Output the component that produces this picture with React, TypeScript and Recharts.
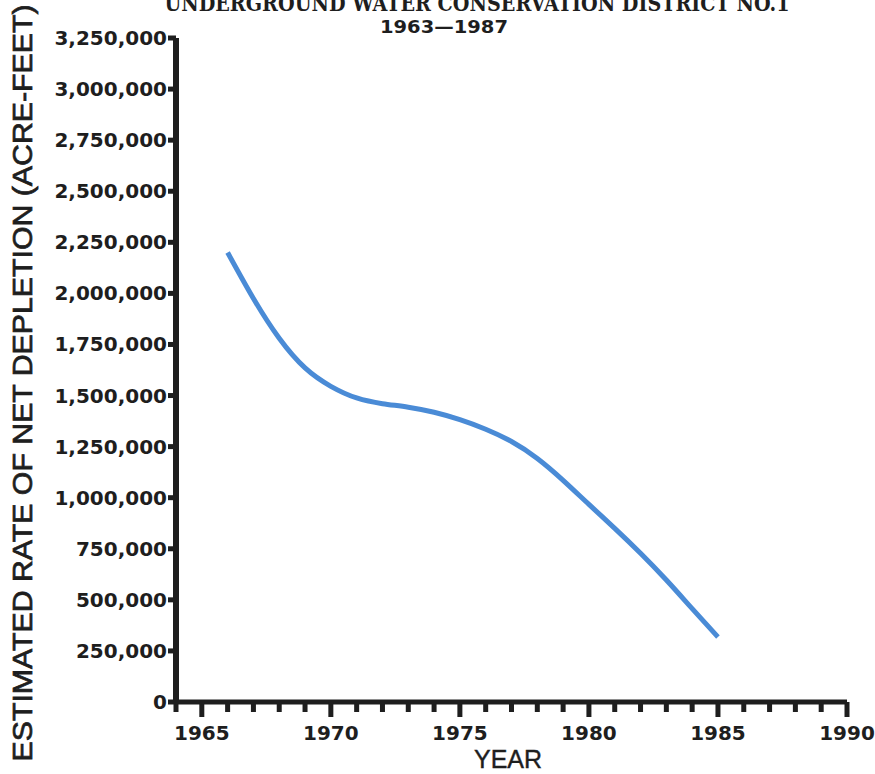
import { Line, LineChart, XAxis, YAxis } from "recharts"

const years = [
  1966, 1967, 1968, 1969, 1970, 1971, 1972, 1973, 1974, 1975, 1976, 1977, 1978, 1979, 1980, 1981,
  1982, 1983, 1984, 1985,
]
const depletion = [
  2200000, 1975000, 1780000, 1635000, 1545000, 1488000, 1460000, 1443000, 1418000, 1382000,
  1335000, 1275000, 1192000, 1085000, 967000, 850000, 728000, 597000, 457000, 318000,
]
const yearTicks = [
  1964, 1965, 1966, 1967, 1968, 1969, 1970, 1971, 1972, 1973, 1974, 1975, 1976, 1977, 1978, 1979,
  1980, 1981, 1982, 1983, 1984, 1985, 1986, 1987, 1988, 1989, 1990,
]
const labeledYears = [1965, 1970, 1975, 1980, 1985, 1990]
const depletionTicks = [
  0, 250000, 500000, 750000, 1000000, 1250000, 1500000, 1750000, 2000000, 2250000, 2500000,
  2750000, 3000000, 3250000,
]

const data = years.map((year, i) => ({ year, depletion: depletion[i] }))

const INK = "#1e1e1e"

const YearTick = (props: any) => {
  const { x, y, payload } = props
  const major = labeledYears.includes(payload.value)
  return (
    <g>
      <rect x={x - 2.5} y={y} width={5} height={major ? 15 : 10} fill={INK} />
      {major && (
        <text
          x={x}
          y={y + 38}
          textAnchor="middle"
          fontFamily="DejaVu Sans"
          fontWeight="bold"
          fontSize={20}
          fill={INK}
        >
          {payload.value}
        </text>
      )}
    </g>
  )
}

const DepletionTick = (props: any) => {
  const { x, y, payload } = props
  return (
    <g>
      <rect x={x - 8} y={y - 2.5} width={8} height={5} fill={INK} />
      <text
        x={x - 9}
        y={y + 7}
        textAnchor="end"
        fontFamily="DejaVu Sans"
        fontWeight="bold"
        fontSize={20}
        fill={INK}
      >
        {payload.value.toLocaleString("en-US")}
      </text>
    </g>
  )
}

const App = () => {
  return (
    <div style={{ position: "absolute", left: 0, top: 0, width: 875, height: 774, background: "#fff" }}>
      <LineChart width={875} height={774} data={data} margin={{ top: 38, right: 28, bottom: 0, left: 0 }}>
        <XAxis
          dataKey="year"
          type="number"
          domain={[1964, 1990]}
          ticks={yearTicks}
          interval={0}
          height={72}
          tickSize={0}
          tickMargin={0}
          tickLine={false}
          axisLine={{ stroke: INK, strokeWidth: 5 }}
          tick={(p: any) => <YearTick {...p} />}
        />
        <YAxis
          type="number"
          domain={[0, 3250000]}
          ticks={depletionTicks}
          interval={0}
          width={176}
          tickSize={0}
          tickMargin={0}
          tickLine={false}
          axisLine={{ stroke: INK, strokeWidth: 6 }}
          tick={(p: any) => <DepletionTick {...p} />}
        />
        <Line
          type="natural"
          dataKey="depletion"
          stroke="#4a8bd6"
          strokeWidth={5}
          dot={false}
          isAnimationActive={false}
        />
      </LineChart>
      <svg
        width={875}
        height={774}
        style={{ position: "absolute", left: 0, top: 0, pointerEvents: "none" }}
      >
        <text
          x={477}
          y={11}
          textAnchor="middle"
          fontFamily="DejaVu Serif"
          fontWeight="bold"
          fontSize={22}
          textLength={625}
          lengthAdjust="spacingAndGlyphs"
          fill={INK}
        >
          UNDERGROUND WATER CONSERVATION DISTRICT NO.1
        </text>
        <text
          x={444}
          y={33}
          textAnchor="middle"
          fontFamily="DejaVu Sans"
          fontWeight="bold"
          fontSize={17}
          textLength={128}
          lengthAdjust="spacingAndGlyphs"
          fill={INK}
        >
          1963—1987
        </text>
        <text
          transform="translate(32,383) rotate(-90)"
          textAnchor="middle"
          fontFamily="Liberation Sans"
          fontSize={27}
          textLength={757}
          lengthAdjust="spacingAndGlyphs"
          fill={INK}
          stroke={INK}
          strokeWidth={0.7}
        >
          ESTIMATED RATE OF NET DEPLETION (ACRE-FEET)
        </text>
        <text
          x={508}
          y={768}
          textAnchor="middle"
          fontFamily="Liberation Sans"
          fontSize={25}
          fill={INK}
          stroke={INK}
          strokeWidth={0.4}
        >
          YEAR
        </text>
      </svg>
    </div>
  )
}

export default App
